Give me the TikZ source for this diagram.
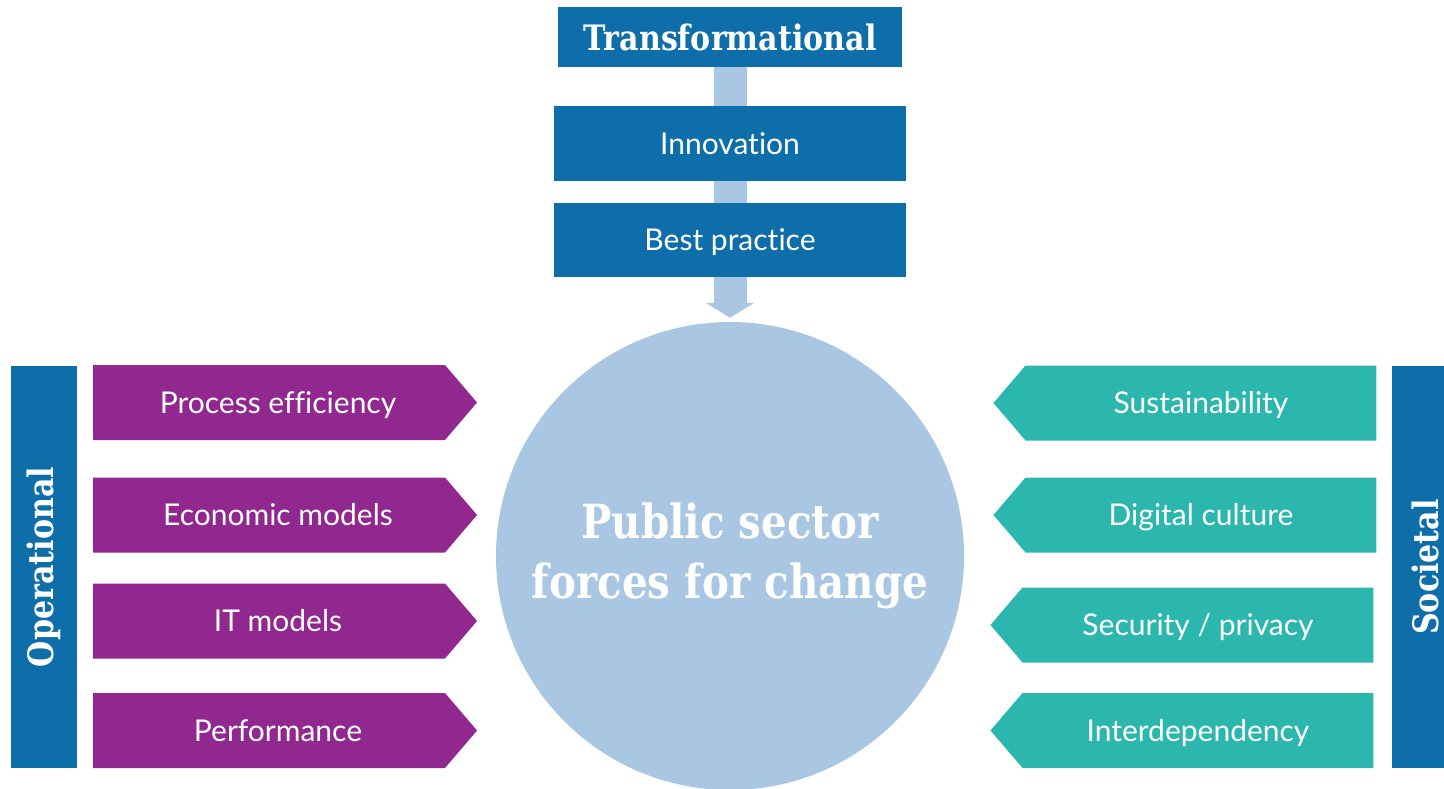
\documentclass[tikz,border=0pt]{standalone}
\usepackage{fontspec}
\setmainfont[Ligatures=NoCommon]{Lato}
\newfontfamily\slabfont[FakeStretch=0.86]{DejaVu Serif}
\usetikzlibrary{shapes,arrows.meta,backgrounds}
\definecolor{darkblue}{HTML}{0D6EAA}
\definecolor{paleblue}{HTML}{A9C7E3}
\definecolor{plum}{HTML}{91288F}
\definecolor{seagreen}{HTML}{2BB7AE}

\begin{document}
\begin{tikzpicture}[x=1pt,y=-1pt,
  head/.style={fill=darkblue,text=white,inner sep=0pt,font=\slabfont\bfseries\fontsize{35}{40}\selectfont},
  stage/.style={fill=darkblue,text=white,inner sep=0pt,minimum width=352pt,text height=21.5pt,text depth=0pt,
    font=\fontsize{30}{34}\selectfont},
  opbox/.style={signal,signal to=east,signal pointer angle=99,fill=plum,text=white,inner sep=0pt,
    minimum width=384pt,minimum height=75pt,text height=21.5pt,text depth=0pt,font=\fontsize{30}{34}\selectfont,
    execute at begin node=\hspace*{18pt}},
  socbox/.style={signal,signal to=west,signal pointer angle=99,fill=seagreen,text=white,inner sep=0pt,
    minimum width=383pt,minimum height=75pt,text height=21.5pt,text depth=0pt,font=\fontsize{30}{34}\selectfont}]
\useasboundingbox (0,0) rectangle (1444,788);

\node [head,minimum width=344pt,minimum height=60pt] (TRANS) at (730,37) {Transformational};
\node [stage,minimum height=75pt] (INNOV) at (730,143.5) {Innovation};
\node [stage,minimum height=74pt] (BEST) at (730,240) {Best practice};
\node [circle,fill=paleblue,text=white,minimum size=468pt,align=center,
  font=\slabfont\bfseries\fontsize{47}{60}\selectfont] (CORE) at (730,556) {Public sector\\forces for change};

\node [head,minimum width=66pt,minimum height=402pt] (OPER) at (44,567) {};
\node [head,rotate=90] at (OPER.center) {Operational};
\node [head,minimum width=66pt,minimum height=402pt] (SOC) at (1425,567) {};
\node [head,rotate=90] at (SOC.center) {Societal};

\node [opbox] (PROC) at (269,402.5) {Process efficiency};
\node [opbox] (ECON) at (269,515) {Economic models};
\node [opbox] (ITM) at (269,621) {IT models};
\node [opbox] (PERF) at (269,730.5) {Performance};

\node [socbox] (SUST) at (1201,403) {Sustainability};
\node [socbox] (DIGI) at (1201,515) {Digital culture};
\node [socbox] (SECU) at (1198,625) {Security / privacy};
\node [socbox] (INTER) at (1198,730.5) {Interdependency};

\begin{scope}[on background layer]
\draw [paleblue,line width=33pt,-{Triangle[length=15pt,width=48pt]},shorten >=4pt] (TRANS) to (CORE);
\end{scope}
\end{tikzpicture}
\end{document}
